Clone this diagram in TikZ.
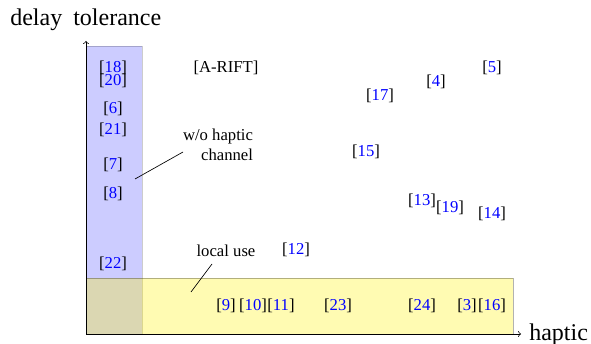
\documentclass[tikz,border=0pt]{standalone}
\usepackage{fontspec}
\setmainfont{Liberation Serif}
\newcommand{\rf}[1]{[\textcolor{blue}{#1}]}
\begin{document}
\begin{tikzpicture}[x=0.6pt,y=-0.6pt,
  lbl/.style={inner sep=0pt, font=\normalsize},
  axlbl/.style={inner sep=0pt, font=\Large, anchor=base west},
  leader/.style={draw=black, line width=0.4pt}]
\useasboundingbox (0,0) rectangle (591,344);
% regions
\draw[fill=blue, opacity=0.2] (86,46) rectangle (142,334);
\draw[fill=yellow, opacity=0.3] (86,278) rectangle (513,334);
% axes
\coordinate (O) at (86,334);
\coordinate (xe) at (521,334);
\coordinate (ye) at (86,41);
\draw[->] (O) -- (xe);
\draw[->] (O) -- (ye);
\node[axlbl] (xl) at (529,340) {haptic};
\node[axlbl] (yl) at (10,26) {delay\hspace{3pt} tolerance};
% left column
\node[lbl] (r18) at (113,68) {\rf{18}};
\node[lbl] (r20) at (113,81) {\rf{20}};
\node[lbl] (r6) at (113,109) {\rf{6}};
\node[lbl] (r21) at (113,130) {\rf{21}};
\node[lbl] (r7) at (113,165) {\rf{7}};
\node[lbl] (r8) at (113,194) {\rf{8}};
\node[lbl] (r22) at (113,264) {\rf{22}};
% upper area
\node[lbl] (arift) at (226,68) {[A-RIFT]};
\node[lbl] (r17) at (380,96) {\rf{17}};
\node[lbl] (r4) at (436,82) {\rf{4}};
\node[lbl] (r5) at (492,68) {\rf{5}};
\node[lbl] (r15) at (366,152) {\rf{15}};
\node[lbl] (r13) at (422,201) {\rf{13}};
\node[lbl] (r19) at (450,208) {\rf{19}};
\node[lbl] (r14) at (492,214) {\rf{14}};
\node[lbl] (r12) at (296,250) {\rf{12}};
% bottom row
\node[lbl] (r9) at (226,306) {\rf{9}};
\node[lbl] (r10) at (253,306) {\rf{10}};
\node[lbl] (r11) at (281,306) {\rf{11}};
\node[lbl] (r23) at (338,306) {\rf{23}};
\node[lbl] (r24) at (422,306) {\rf{24}};
\node[lbl] (r3) at (467,306) {\rf{3}};
\node[lbl] (r16) at (492,306) {\rf{16}};
% annotations
\node[lbl, align=right] (wo) at (218,145) {w/o haptic\\channel\hspace{2pt}};
\coordinate (woA) at (135,179);
\coordinate (woB) at (183,152);
\draw[leader] (woA) -- (woB);
\node[lbl] (lu) at (226,251) {local use};
\coordinate (luA) at (191,292);
\coordinate (luB) at (212,264);
\draw[leader] (luA) -- (luB);
\end{tikzpicture}
\end{document}
